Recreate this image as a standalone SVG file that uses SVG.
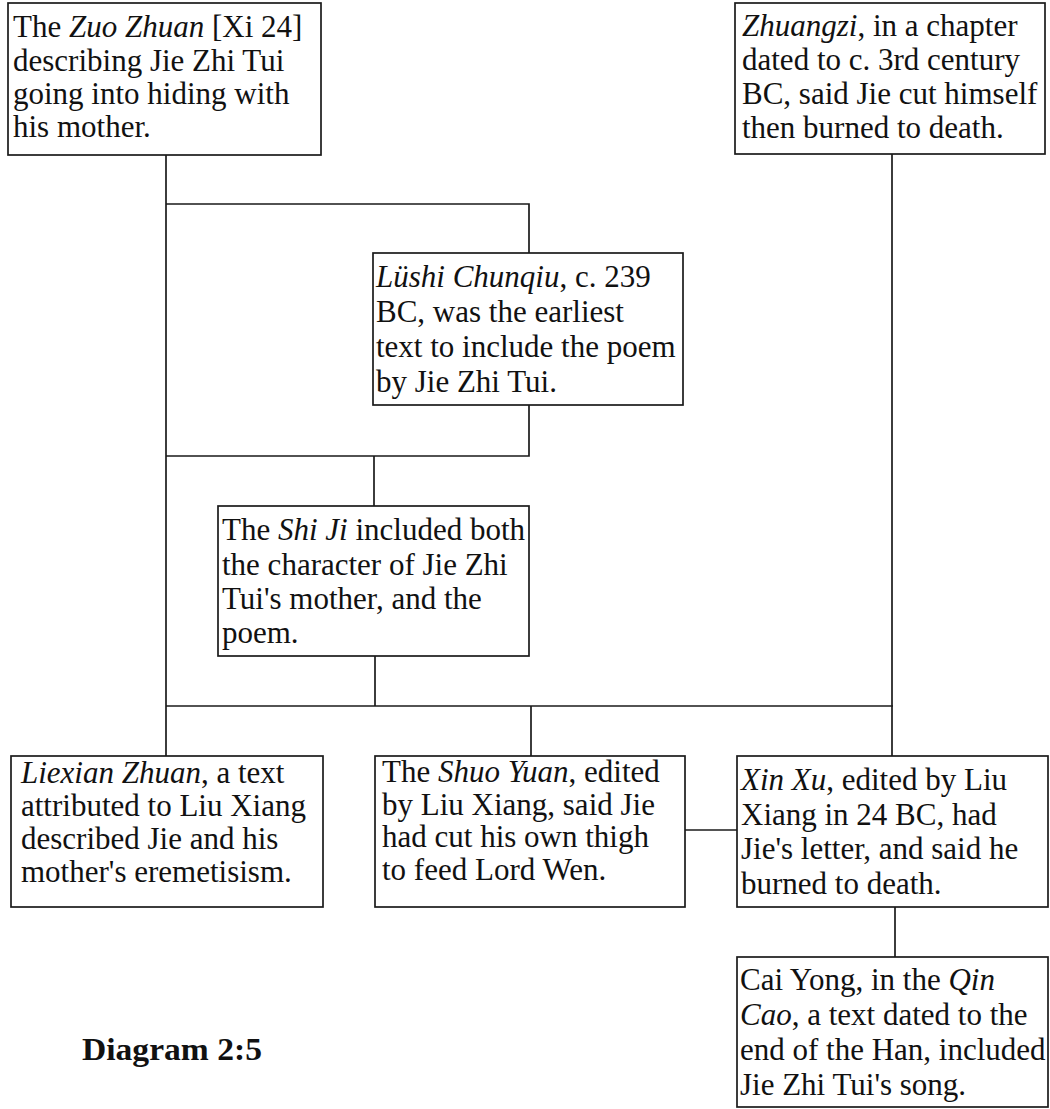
<svg xmlns="http://www.w3.org/2000/svg" width="1050" height="1109" viewBox="0 0 1050 1109">
  <style>
    .box { fill: #ffffff; stroke: #1a1a1a; stroke-width: 1.7; }
    .wire { fill: none; stroke: #1a1a1a; stroke-width: 1.7; }
    .t { font-family: "Liberation Serif", "Times New Roman", serif; font-size: 31px; fill: #111111; }
    .i { font-style: italic; }
    .title { font-family: "Liberation Serif", "Times New Roman", serif; font-size: 31px; font-weight: bold; fill: #111111; }
  </style>

  <!-- connectors -->
  <g id="connectors">
    <!-- left trunk from Zuo Zhuan down to Liexian Zhuan -->
    <line class="wire" x1="166" y1="155" x2="166" y2="756"/>
    <!-- bracket to Lüshi Chunqiu -->
    <polyline class="wire" points="166,204 529,204 529,253"/>
    <polyline class="wire" points="529,405 529,456 166,456"/>
    <!-- Lüshi bracket to Shi Ji -->
    <line class="wire" x1="374" y1="456" x2="374" y2="506"/>
    <!-- Shi Ji down to the common bar -->
    <line class="wire" x1="375" y1="656" x2="375" y2="706"/>
    <!-- common bar -->
    <line class="wire" x1="166" y1="706" x2="893" y2="706"/>
    <!-- right trunk from Zhuangzi down to Xin Xu -->
    <line class="wire" x1="892" y1="154" x2="892" y2="756"/>
    <!-- bar to Shuo Yuan -->
    <line class="wire" x1="531" y1="706" x2="531" y2="756"/>
    <!-- Shuo Yuan to Xin Xu -->
    <line class="wire" x1="685" y1="830" x2="737" y2="830"/>
    <!-- Xin Xu to Qin Cao -->
    <line class="wire" x1="895" y1="907" x2="895" y2="957"/>
  </g>

  <!-- Zuo Zhuan -->
  <g id="zuo-zhuan">
    <rect class="box" x="8" y="3" width="313" height="152"/>
    <text class="t" x="13" y="37">The <tspan class="i">Zuo Zhuan</tspan> [Xi 24]</text>
    <text class="t" x="13" y="71">describing Jie Zhi Tui</text>
    <text class="t" x="13" y="104">going into hiding with</text>
    <text class="t" x="13" y="137">his mother.</text>
  </g>

  <!-- Zhuangzi -->
  <g id="zhuangzi">
    <rect class="box" x="735" y="3" width="310" height="151"/>
    <text class="t" x="742" y="36"><tspan class="i">Zhuangzi</tspan>, in a chapter</text>
    <text class="t" x="742" y="70">dated to c. 3rd century</text>
    <text class="t" x="742" y="104">BC, said Jie cut himself</text>
    <text class="t" x="742" y="138">then burned to death.</text>
  </g>

  <!-- Lüshi Chunqiu -->
  <g id="lushi-chunqiu">
    <rect class="box" x="373" y="253" width="310" height="152"/>
    <text class="t" x="376" y="287"><tspan class="i">Lüshi Chunqiu</tspan>, c. 239</text>
    <text class="t" x="376" y="322">BC, was the earliest</text>
    <text class="t" x="376" y="357">text to include the poem</text>
    <text class="t" x="376" y="392">by Jie Zhi Tui.</text>
  </g>

  <!-- Shi Ji -->
  <g id="shi-ji">
    <rect class="box" x="218" y="506" width="311" height="150"/>
    <text class="t" x="222" y="540">The <tspan class="i">Shi Ji</tspan> included both</text>
    <text class="t" x="222" y="575">the character of Jie Zhi</text>
    <text class="t" x="222" y="609">Tui's mother, and the</text>
    <text class="t" x="222" y="643">poem.</text>
  </g>

  <!-- Liexian Zhuan -->
  <g id="liexian-zhuan">
    <rect class="box" x="11" y="756" width="312" height="151"/>
    <text class="t" x="21" y="783"><tspan class="i">Liexian Zhuan</tspan>, a text</text>
    <text class="t" x="21" y="816">attributed to Liu Xiang</text>
    <text class="t" x="21" y="849">described Jie and his</text>
    <text class="t" x="21" y="882">mother's eremetisism.</text>
  </g>

  <!-- Shuo Yuan -->
  <g id="shuo-yuan">
    <rect class="box" x="375" y="756" width="310" height="151"/>
    <text class="t" x="382" y="782">The <tspan class="i">Shuo Yuan</tspan>, edited</text>
    <text class="t" x="382" y="815">by Liu Xiang, said Jie</text>
    <text class="t" x="382" y="847">had cut his own thigh</text>
    <text class="t" x="382" y="880">to feed Lord Wen.</text>
  </g>

  <!-- Xin Xu -->
  <g id="xin-xu">
    <rect class="box" x="737" y="756" width="311" height="151"/>
    <text class="t" x="741" y="790"><tspan class="i">Xin Xu</tspan>, edited by Liu</text>
    <text class="t" x="741" y="825">Xiang in 24 BC, had</text>
    <text class="t" x="741" y="859">Jie's letter, and said he</text>
    <text class="t" x="741" y="894">burned to death.</text>
  </g>

  <!-- Qin Cao -->
  <g id="qin-cao">
    <rect class="box" x="737" y="957" width="311" height="150"/>
    <text class="t" x="740" y="990">Cai Yong, in the <tspan class="i">Qin</tspan></text>
    <text class="t" x="740" y="1025"><tspan class="i">Cao</tspan>, a text dated to the</text>
    <text class="t" x="740" y="1060">end of the Han, included</text>
    <text class="t" x="740" y="1095">Jie Zhi Tui's song.</text>
  </g>

  <!-- caption -->
  <text class="title" x="82" y="1060" textLength="180" lengthAdjust="spacingAndGlyphs">Diagram 2:5</text>
</svg>
